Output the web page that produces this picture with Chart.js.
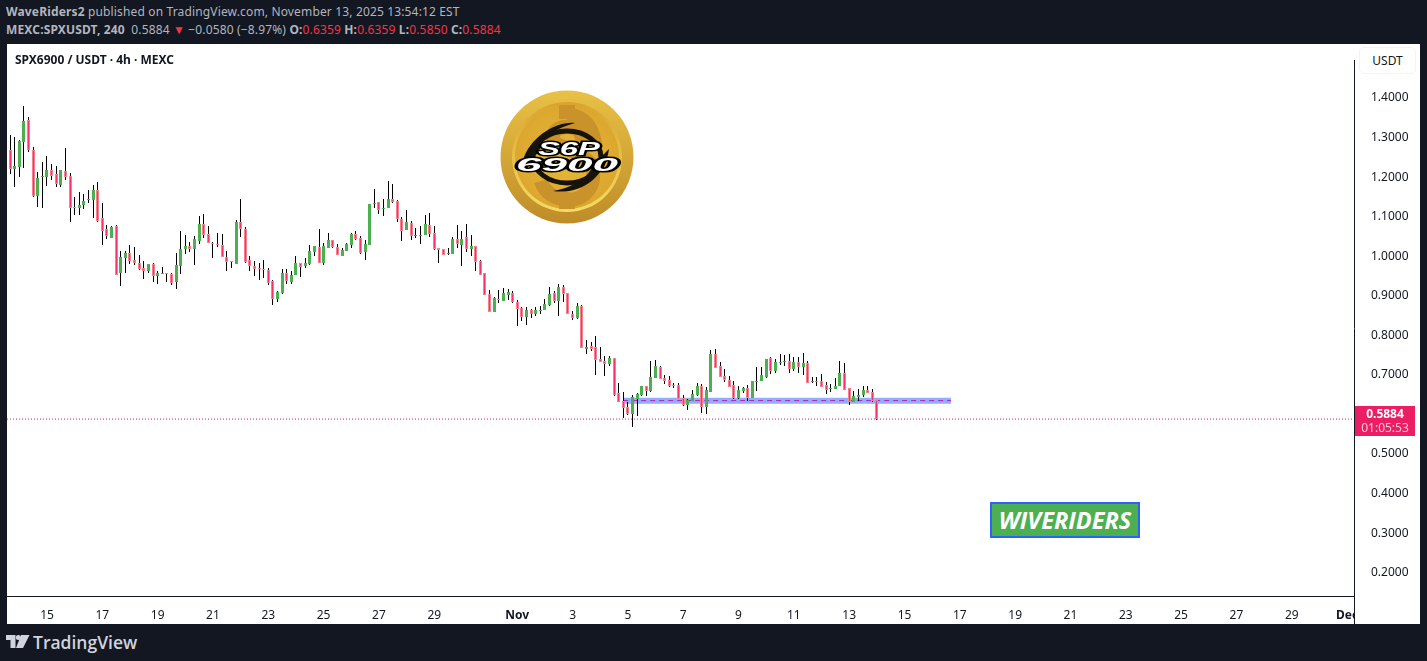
<!DOCTYPE html>
<html>
<head>
<meta charset="utf-8">
<script src="https://cdn.jsdelivr.net/npm/chart.js@4/dist/chart.umd.min.js"></script>
<style>
html,body{margin:0;padding:0;width:1427px;height:661px;overflow:hidden;background:#131722;}
body{position:relative;font-family:"Noto Sans",sans-serif;}
.abs{position:absolute;white-space:nowrap;}
#panel{left:7px;top:44px;width:1413px;height:580px;background:#fff;}
#panel canvas{position:absolute;left:0;top:0;}
.hdr{color:#b2b5be;font-size:12px;line-height:16px;letter-spacing:0.15px;}
.hdr b{font-weight:700;}
.hdr .r{color:#f23645;}
#corner{left:1354px;top:596px;width:65px;height:28px;background:#fff;border-left:1px solid #131722;}
#usdt{left:1359px;top:47px;width:55px;height:25px;border:1px solid #f0f3fa;border-radius:5px;background:#fff;color:#131722;font-size:12px;line-height:25px;text-align:center;}
#tag{left:1355px;top:406px;width:60px;height:30px;background:#ec1e63;color:#fff;font-size:12px;line-height:14px;padding-top:1px;box-sizing:border-box;text-align:center;}
#tag span{display:block;}
#wr{left:990px;top:502px;width:150px;height:36px;box-sizing:border-box;border:2px solid #2962ff;background:#4caf50;color:#fff;font:italic 700 23.5px/32px "Open Sans",sans-serif;text-align:center;}
#title{left:15px;top:52px;color:#131722;font-size:12px;font-weight:700;line-height:16px;}
</style>
</head>
<body>
<div class="abs" id="panel"><canvas id="c" width="1413" height="580" style="width:1413px;height:580px"></canvas></div>
<div class="abs hdr" style="left:6px;top:4px"><b>WaveRiders2</b> published on TradingView.com, November 13, 2025 13:54:12 EST</div>
<div class="abs hdr" style="left:6px;top:22px"><b>MEXC:SPXUSDT, 240</b>&nbsp; 0.5884 <span class="r">▼</span> −0.0580 (−8.97%) <b>O:</b><span class="r">0.6359</span> <b>H:</b><span class="r">0.6359</span> <b>L:</b><span class="r">0.5850</span> <b>C:</b><span class="r">0.5884</span></div>
<div class="abs" id="title">SPX6900 / USDT · 4h · MEXC</div>
<div class="abs" id="corner"></div>
<div class="abs" id="usdt">USDT</div>
<div class="abs" id="tag"><span style="font-weight:700">0.5884</span><span style="color:#fbc7d8">01:05:53</span></div>
<div class="abs" id="wr">WIVERIDERS</div>
<svg class="abs" style="left:497px;top:87px" width="140" height="140" viewBox="0 0 140 140">
<defs>
<linearGradient id="g1" x1="0" y1="0" x2="0" y2="1"><stop offset="0" stop-color="#e9c145"/><stop offset="1" stop-color="#bf8c28"/></linearGradient>
<linearGradient id="g2" x1="0" y1="0" x2="0" y2="1"><stop offset="0" stop-color="#d9a42c"/><stop offset="1" stop-color="#f4dc62"/></linearGradient>
<radialGradient id="g3"><stop offset="0" stop-color="#e7b93a"/><stop offset="1" stop-color="#dca72e"/></radialGradient>
</defs>
<circle cx="70" cy="70" r="66.5" fill="url(#g1)"/>
<circle cx="70" cy="70" r="55" fill="url(#g2)"/>
<circle cx="70" cy="70" r="52" fill="url(#g3)"/>
<rect x="62" y="18" width="16" height="14" fill="#c9922a"/>
<rect x="62" y="108" width="16" height="14" fill="#c9922a"/>
<path d="M70 28a26 28 0 0 1 26 20l-12 0a14 10 0 0 0-28 4c0 8 28 10 38 26a22 24 0 0 1-24 34a26 24 0 0 1-26-18" fill="none" stroke="#c9922a" stroke-width="14"/>
<path d="M26 74C32 50 60 34 78 36C56 42 44 52 42 66ZM112 62C108 92 82 108 56 104C78 100 92 90 96 78Z" fill="#16120c"/>
<ellipse cx="70" cy="70" rx="34" ry="26" fill="none" stroke="#16120c" stroke-width="5"/>
<g font-family="Liberation Sans" font-weight="700" font-style="italic" fill="#fff" stroke="#000" stroke-width="3" paint-order="stroke" text-anchor="middle">
<text x="72" y="68" font-size="19" textLength="62" lengthAdjust="spacingAndGlyphs">S6P</text>
<text x="70" y="84" font-size="19" textLength="102" lengthAdjust="spacingAndGlyphs">6900</text>
</g>
</svg>
<svg class="abs" style="left:6px;top:635px" width="24" height="14" viewBox="0 0 24 14">
<path d="M0 0H9.5V13H4.5V5H0Z M15 0H23.5L17 13H10Z" fill="#d1d4dc"/><circle cx="12.3" cy="2.6" r="2.5" fill="#d1d4dc"/>
</svg>
<div class="abs" style="left:33px;top:631px;color:#d1d4dc;font-size:17.5px;font-weight:600;line-height:22px;font-family:'Open Sans',sans-serif">TradingView</div>
<script>
const candleOpen=[1.2675,1.2209,1.2258,1.2896,1.3436,1.2699,1.1521,1.2012,1.2012,1.2184,
1.2086,1.1792,1.2160,1.2037,1.1244,1.1227,1.1301,1.1423,1.1423,1.1669,
1.0957,1.0687,1.0466,1.0761,.9583,.9951,1.0074,.9902,.9829,.9706,
.9632,.9804,.9510,.9559,.9583,.9559,.9338,.9755,1.0172,1.0270,
1.0172,1.0393,1.0810,1.0565,1.0344,1.0319,1.0295,.9976,.9878,.9804,
1.0859,1.0687,.9902,.9755,.9706,.9681,.9657,.9387,.8920,.9068,
.9583,.9362,.9534,.9829,.9755,.9804,1.0098,1.0246,.9829,1.0221,
1.0417,1.0246,1.0000,1.0123,1.0295,1.0565,1.0466,1.0098,1.0295,1.1325,
1.1374,1.1202,1.1227,1.1448,1.1399,1.0932,1.0663,1.0834,1.0516,1.0516,
1.0540,1.0785,1.0589,1.0197,1.0172,1.0049,1.0049,1.0442,1.0295,1.0491,
1.0172,1.0270,.9878,.9583,.9043,.8602,.8920,.8871,.9019,.9068,
.8847,.8699,.8454,.8651,.8552,.8626,.8651,.8773,.9068,.8871,
.9215,.9068,.8552,.8430,.8749,.7645,.7743,.7694,.7399,.7350,
.7276,.7424,.6540,.6344,.6197,.6000,.6393,.6491,.6712,.6589,
.6933,.7203,.6933,.6884,.6737,.6737,.6418,.6246,.6344,.6491,
.6712,.6197,.6565,.7522,.7227,.6982,.6884,.6737,.6418,.6589,
.6663,.6418,.6810,.6835,.6957,.7424,.7105,.7301,.7325,.7350,
.7154,.7325,.7203,.7301,.6835,.6859,.6835,.6737,.6638,.6638,
.6712,.7056,.6663,.6319,.6442,.6491,.6614,.6565,.6359];
const candleHigh=[1.3067,1.3018,1.2945,1.3804,1.3509,1.2773,1.2135,1.2381,1.2528,1.2331,
1.2282,1.2184,1.2748,1.2110,1.1497,1.1620,1.1570,1.1669,1.1792,1.1890,
1.1350,1.0785,1.0761,1.0785,1.0123,1.0123,1.0295,1.0246,1.0025,.9878,
.9804,.9829,.9632,.9730,.9583,.9583,1.0074,1.0638,1.0540,1.0368,
1.0516,1.1006,1.1080,1.0761,1.0368,1.0589,1.0565,1.0123,.9878,1.0908,
1.1448,1.0737,1.0000,.9878,.9829,.9902,.9706,.9411,.9117,.9681,
.9681,.9632,1.0000,.9829,.9951,1.0295,1.0270,1.0687,1.0344,1.0589,
1.0417,1.0319,1.0221,1.0344,1.0589,1.0638,1.0516,1.0417,1.1325,1.1693,
1.1374,1.1448,1.1914,1.1816,1.1423,1.0982,1.1178,1.0883,1.0712,1.0761,
1.1031,1.1105,1.0761,1.0221,1.0172,1.0197,1.0491,1.0785,1.0638,1.0810,
1.0540,1.0270,.9902,.9583,.9141,.8970,.9141,.9191,.9166,.9117,
.8896,.8724,.8724,.8675,.8724,.8749,.8920,.9215,.9117,.9289,
.9264,.9068,.8626,.8822,.8773,.7890,.7841,.7988,.7718,.7473,
.7473,.7424,.6786,.6565,.6319,.6491,.6540,.6712,.6712,.7350,
.7375,.7227,.7006,.6982,.6786,.6786,.6491,.6393,.6614,.6786,
.6761,.6687,.7620,.7645,.7325,.7154,.6982,.6835,.6712,.6687,
.6737,.6835,.7203,.7203,.7399,.7448,.7399,.7522,.7497,.7522,
.7448,.7448,.7546,.7350,.6957,.6957,.7031,.6810,.6761,.6933,
.7350,.7301,.6663,.6589,.6638,.6712,.6712,.6638,.6359];
const candleLow=[1.2086,1.1742,1.2012,1.2233,1.2626,1.1497,1.1252,1.1227,1.1767,1.1939,
1.1742,1.1742,1.1939,1.0859,1.1031,1.1056,1.1202,1.1350,1.0957,1.0859,
1.0295,1.0442,1.0466,.9534,.9240,.9583,.9804,.9779,.9657,.9436,
.9583,.9362,.9289,.9559,.9362,.9264,.9166,.9559,1.0049,1.0098,
.9779,1.0319,1.0466,1.0344,.9951,1.0246,.9976,.9632,.9706,.9804,
1.0491,.9837,.9632,.9510,.9411,.9460,.9264,.8773,.8847,.9043,
.9289,.9289,.9534,.9485,.9706,.9779,1.0000,.9829,.9779,1.0221,
1.0221,1.0025,1.0000,1.0123,1.0221,1.0417,1.0049,.9902,1.0295,1.1227,
1.1080,1.1006,1.1227,1.1350,1.0859,1.0393,1.0663,1.0417,1.0466,1.0319,
1.0540,1.0491,1.0147,.9829,1.0025,1.0025,1.0049,1.0197,.9755,1.0098,
1.0000,.9632,.9534,.9019,.8602,.8602,.8822,.8871,.8896,.8822,
.8233,.8356,.8258,.8430,.8479,.8528,.8651,.8749,.8822,.8479,
.8847,.8528,.8381,.8405,.7669,.7522,.7595,.7006,.7325,.6982,
.7227,.6467,.6319,.5902,.5976,.5681,.5951,.6467,.6467,.6565,
.6933,.6908,.6761,.6687,.6663,.6393,.6221,.6123,.6344,.6467,
.6049,.6000,.6565,.7178,.6957,.6810,.6687,.6393,.6393,.6540,
.6344,.6418,.6589,.6835,.6933,.7031,.7056,.7252,.7227,.7056,
.7105,.7056,.7006,.6786,.6786,.6712,.6687,.6516,.6565,.6638,
.6712,.6614,.6246,.6319,.6344,.6442,.6540,.6319,.5850];
const candleClose=[1.2209,1.2282,1.2920,1.3411,1.2699,1.1521,1.1988,1.2037,1.2184,1.2037,
1.1816,1.2184,1.2012,1.1227,1.1227,1.1301,1.1399,1.1448,1.1669,1.0883,
1.0638,1.0516,1.0737,.9534,.9976,1.0074,.9878,.9829,.9681,.9632,
.9804,.9510,.9583,.9583,.9559,.9313,.9779,1.0172,1.0270,1.0172,
1.0442,1.0810,1.0540,1.0344,1.0319,1.0295,.9976,.9853,.9853,1.0859,
1.0687,.9853,.9755,.9681,.9681,.9657,.9313,.8920,.9092,.9583,
.9387,.9534,.9829,.9730,.9829,1.0123,1.0270,.9829,1.0270,1.0417,
1.0246,1.0025,1.0147,1.0319,1.0565,1.0442,1.0074,1.0319,1.1325,1.1350,
1.1178,1.1227,1.1448,1.1374,1.0932,1.0646,1.0859,1.0516,1.0540,1.0540,
1.0810,1.0565,1.0172,1.0147,1.0025,1.0074,1.0442,1.0311,1.0442,1.0172,
1.0270,.9853,.9534,.9019,.8602,.8945,.8896,.9068,.9092,.8847,
.8675,.8454,.8651,.8552,.8651,.8651,.8798,.9043,.8871,.9215,
.9043,.8528,.8430,.8749,.7669,.7718,.7645,.7375,.7325,.7276,
.7424,.6491,.6319,.6172,.6000,.6442,.6516,.6712,.6589,.6957,
.7227,.6908,.6859,.6712,.6712,.6393,.6246,.6368,.6516,.6712,
.6197,.6614,.7522,.7178,.6957,.6884,.6687,.6418,.6614,.6663,
.6418,.6835,.6859,.7006,.7399,.7105,.7325,.7325,.7350,.7154,
.7325,.7203,.7301,.6786,.6859,.6810,.6687,.6614,.6663,.6712,
.7056,.6614,.6319,.6467,.6491,.6614,.6540,.6344,.5884];

// time axis: days counted from 1 Oct (1 = Oct 1, 32 = Nov 1, 62 = Dec 1); candles are 4h apart
const firstCandleDay=13+2/3;
const candleDays=candleOpen.map((_,i)=>firstCandleDay+i/6);
const tickDays=[15,17,19,21,23,25,27,29,32,34,36,38,40,42,44,46,48,50,52,54,56,58,60,62];
const tickLabels=["15","17","19","21","23","25","27","29","Nov","3","5","7","9","11","13","15","17","19","21","23","25","27","29","Dec"];
const priceTicks=[1.4,1.3,1.2,1.1,1.0,0.9,0.8,0.7,0.6,0.5,0.4,0.3,0.2];
const lastPrice=0.5884;
const zoneMid=0.6345, zoneLine=0.6352, zoneStartDay=35.83, zoneEndDay=47.68;
const axisDayMin=13.554, axisDayMax=62.25, axisPriceMin=0.1411, axisPriceMax=1.4957;

const UP="#4caf50", DOWN="#f7336a", DOWN_EDGE="#fb7d90";
const isUp=i=>candleClose[i]>=candleOpen[i];

const snapBars={
  id:'snapBars',
  beforeDatasetsDraw(chart){
    chart.data.datasets.forEach((ds,di)=>{
      if(ds.type!=='bar')return;
      chart.getDatasetMeta(di).data.forEach(el=>{
        el.x=Math.floor(el.x)+0.5;
        el.y=Math.round(el.y);
        el.base=Math.round(el.base);
        if(el.y===el.base)el.base=el.y+1;
      });
    });
  }
};

new Chart(document.getElementById('c'),{
  type:'bar',
  plugins:[snapBars],
  data:{datasets:[
    {type:'line',order:6,data:[{x:zoneStartDay,y:zoneMid},{x:zoneEndDay,y:zoneMid}],borderColor:"#92aefb",borderWidth:6,pointRadius:0,borderCapStyle:'butt'},
    {type:'line',order:5,data:[{x:zoneStartDay,y:zoneLine},{x:zoneEndDay,y:zoneLine}],borderColor:"#b81fc0",borderWidth:1,borderDash:[5,4],pointRadius:0},
    {type:'line',order:4,data:[{x:axisDayMin,y:lastPrice},{x:axisDayMax,y:lastPrice}],borderColor:"#ec1e63",borderWidth:1,borderDash:[1,2],pointRadius:0},
    {type:'bar',order:2,grouped:false,barThickness:1,inflateAmount:0,backgroundColor:"#000",
      data:candleDays.map((d,i)=>({x:d,y:[candleLow[i],candleHigh[i]]}))},
    {type:'bar',order:1,grouped:false,barThickness:3,inflateAmount:0,borderWidth:1,borderSkipped:false,
      backgroundColor:candleOpen.map((_,i)=>isUp(i)?UP:DOWN),
      borderColor:candleOpen.map((_,i)=>isUp(i)?UP:DOWN_EDGE),
      data:candleDays.map((d,i)=>({x:d,y:[candleOpen[i],candleClose[i]]}))}
  ]},
  options:{
    responsive:false,animation:false,devicePixelRatio:1,
    layout:{padding:0},
    plugins:{legend:{display:false},tooltip:{enabled:false},title:{display:false}},
    scales:{
      x:{type:'linear',min:axisDayMin,max:axisDayMax,offset:false,
        grid:{display:false},border:{display:true,color:"#131722",width:1},
        afterBuildTicks(s){s.ticks=tickDays.map(v=>({value:v}));},
        afterFit(s){s.height=28;},
        ticks:{autoSkip:false,maxRotation:0,padding:4,color:"#131722",
          font:c=>({family:"Noto Sans",size:12,weight:(c.tick&&(c.tick.value===32||c.tick.value===62))?'700':'400'}),
          callback:v=>tickLabels[tickDays.indexOf(v)]}},
      y:{type:'linear',position:'right',min:axisPriceMin,max:axisPriceMax,
        grid:{display:false},border:{display:true,color:"#131722",width:1},
        afterBuildTicks(s){s.ticks=priceTicks.map(v=>({value:v}));},
        afterFit(s){s.width=66;},
        ticks:{autoSkip:false,padding:9,color:"#131722",crossAlign:'near',
          font:{family:"Noto Sans",size:12},
          callback:v=>v.toFixed(4)}}
    }
  }
});
</script>
</body>
</html>
